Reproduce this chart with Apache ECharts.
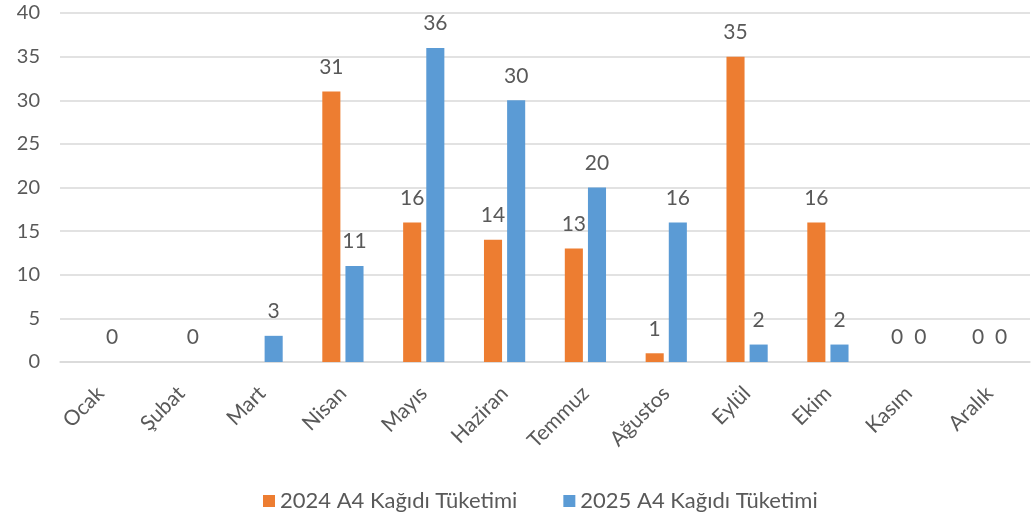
<!DOCTYPE html>
<html>
<head>
<meta charset="utf-8">
<script src="https://cdn.jsdelivr.net/npm/echarts@6/dist/echarts.min.js"></script>
<style>
  html, body { margin: 0; padding: 0; background: #fff; }
  #chart { width: 1034px; height: 515px; }
</style>
</head>
<body>
<div id="chart"></div>
<script>
// aylar
const months = ['Ocak', 'Şubat', 'Mart', 'Nisan', 'Mayıs', 'Haziran', 'Temmuz', 'Ağustos', 'Eylül', 'Ekim', 'Kasım', 'Aralık'];
const seriesNames = ['2024 A4 Kağıdı Tüketimi', '2025 A4 Kağıdı Tüketimi'];
const values2024 = [null, null, null, 31, 16, 14, 13, 1, 35, 16, 0, 0];
const values2025 = [0, 0, 3, 11, 36, 30, 20, 16, 2, 2, 0, 0];

const textColor = '#595959';
const font = 'Lato, "Open Sans", sans-serif';

const chart = echarts.init(document.getElementById('chart'));

const barLabel = {
  show: true,
  position: 'top',
  distance: 14,
  color: textColor,
  fontSize: 21,
  fontFamily: font
};

chart.setOption({
  animation: false,
  grid: { left: 60, right: 4, top: 13, bottom: 153 },
  legend: {
    top: 485,
    left: 258,
    itemWidth: 12,
    itemHeight: 12,
    itemGap: 46,
    icon: 'rect',
    textStyle: { color: textColor, fontSize: 22, fontFamily: font },
    data: seriesNames
  },
  xAxis: {
    type: 'category',
    data: months,
    axisLine: { show: true, lineStyle: { color: '#d9d9d9', width: 1.5 } },
    axisTick: { show: false },
    axisLabel: {
      rotate: 45,
      margin: 28,
      color: textColor,
      fontSize: 21,
      fontFamily: font,
      interval: 0
    }
  },
  yAxis: {
    type: 'value',
    min: 0,
    max: 40,
    interval: 5,
    axisLine: { show: false },
    axisTick: { show: false },
    splitLine: { lineStyle: { color: '#d9d9d9', width: 1.5 } },
    axisLabel: { color: textColor, fontSize: 20, fontFamily: font, margin: 20 }
  },
  series: [
    {
      name: seriesNames[0],
      type: 'bar',
      data: values2024,
      itemStyle: { color: '#ED7D31' },
      barGap: '28%',
      barCategoryGap: '49%',
      label: barLabel
    },
    {
      name: seriesNames[1],
      type: 'bar',
      data: values2025,
      itemStyle: { color: '#5B9BD5' },
      barGap: '28%',
      barCategoryGap: '49%',
      label: barLabel
    }
  ]
});
</script>
</body>
</html>
